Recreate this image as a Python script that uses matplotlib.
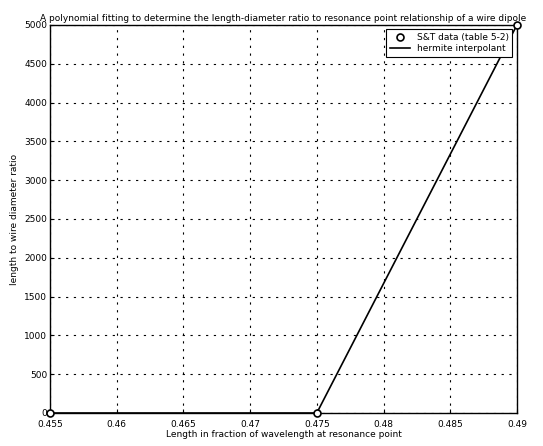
import matplotlib
matplotlib.use('Agg')
import matplotlib.pyplot as plt

# S&T data (table 5-2)
length_frac = [0.455, 0.475, 0.49]
ld_ratio = [0, 0, 5000]

# hermite interpolant
interp_x = [0.455, 0.475, 0.49]
interp_y = [0, 0, 5000]

xticks = [0.455, 0.46, 0.465, 0.47, 0.475, 0.48, 0.485, 0.49]
xtick_labels = ['0.455', '0.46', '0.465', '0.47', '0.475', '0.48', '0.485', '0.49']
yticks = [0, 500, 1000, 1500, 2000, 2500, 3000, 3500, 4000, 4500, 5000]


def main():
    plt.rcParams['font.family'] = ['DejaVu Sans']
    plt.rcParams['font.size'] = 6.5

    fig = plt.figure(figsize=(5.43, 4.46), dpi=100)
    ax = fig.add_axes([0.092, 0.074, 0.86, 0.87])

    ax.plot(length_frac, ld_ratio, 'o', color='black', markerfacecolor='white',
            markersize=5, markeredgewidth=1.2, label='S&T data (table 5-2)',
            clip_on=False, zorder=5)
    ax.plot(interp_x, interp_y, '-', color='black', linewidth=1.2,
            label='hermite interpolant', clip_on=False)

    ax.set_xlim(0.455, 0.49)
    ax.set_ylim(0, 5000)
    ax.set_xticks(xticks)
    ax.set_xticklabels(xtick_labels)
    ax.set_yticks(yticks)
    ax.tick_params(direction='in', length=3)
    ax.tick_params(axis='x', pad=5)
    ax.tick_params(axis='y', pad=2)
    ax.grid(True, linestyle=(0, (2, 5)), color='black', linewidth=0.8)
    for s in ax.spines.values():
        s.set_linewidth(1.0)

    ax.set_title('A polynomial fitting to determine the length-diameter ratio to '
                 'resonance point relationship of a wire dipole', fontsize=6.5, pad=3)
    ax.set_xlabel('Length in fraction of wavelength at resonance point', labelpad=1)
    ax.set_ylabel('length to wire diameter ratio', labelpad=4)

    leg = ax.legend(loc='upper right', fancybox=False, framealpha=1,
                    edgecolor='black', fontsize=6.5, handlelength=2.2,
                    borderpad=0.4, labelspacing=0.2)
    leg.get_frame().set_linewidth(0.8)

    fig.savefig('out.png', dpi=100)


if __name__ == '__main__':
    main()
